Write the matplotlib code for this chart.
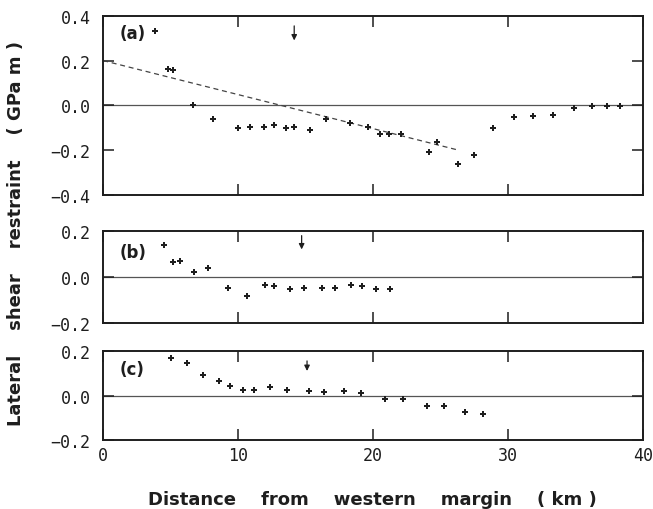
import numpy as np
import matplotlib
matplotlib.use("Agg")
import matplotlib.pyplot as plt

# panel (a)
xa = [3.85, 4.83, 5.16, 6.69, 8.1, 9.97, 10.9, 11.9, 12.67, 13.56, 14.15, 15.33,
      16.5, 18.3, 19.58, 20.5, 21.2, 22.04, 24.15, 24.74, 26.27, 27.48, 28.9,
      30.4, 31.85, 33.3, 34.9, 36.2, 37.3, 38.25]
ya = [0.33, 0.163, 0.157, 0.0, -0.059, -0.10, -0.096, -0.099, -0.09, -0.10, -0.098,
      -0.108, -0.062, -0.08, -0.099, -0.13, -0.13, -0.13, -0.21, -0.165, -0.26,
      -0.224, -0.10, -0.054, -0.048, -0.045, -0.012, -0.004, -0.004, -0.004]
fit_x = [0.0, 26.3]
fit_y = [0.2, -0.2]

# panel (b)
xb = [4.47, 5.16, 5.7, 6.76, 7.73, 9.28, 10.67, 11.95, 12.67, 13.85, 14.84,
      16.24, 17.16, 18.35, 19.2, 20.2, 21.26]
yb = [0.14, 0.065, 0.071, 0.023, 0.038, -0.046, -0.082, -0.035, -0.04, -0.052,
      -0.046, -0.05, -0.047, -0.035, -0.038, -0.054, -0.051]

# panel (c)
xc = [5.04, 6.24, 7.43, 8.59, 9.41, 10.32, 11.19, 12.37, 13.6, 15.21, 16.32,
      17.85, 19.11, 20.91, 22.22, 23.95, 25.26, 26.79, 28.12]
yc = [0.17, 0.147, 0.09, 0.063, 0.041, 0.027, 0.024, 0.036, 0.026, 0.019, 0.014,
      0.021, 0.01, -0.016, -0.014, -0.047, -0.048, -0.076, -0.082]

# arrow markers (x, top, bottom)
arrows = [(14.15, 0.355, 0.29), (14.7, 0.18, 0.12), (15.1, 0.155, 0.11)]
labels = ["(a)", "(b)", "(c)"]
ylims = [(-0.4, 0.4), (-0.2, 0.2), (-0.2, 0.2)]
yticks = [[-0.4, -0.2, 0.0, 0.2, 0.4], [-0.2, 0.0, 0.2], [-0.2, 0.0, 0.2]]
xticks = [0, 10, 20, 30, 40]

ink = "#1e1e1e"
mono = "DejaVu Sans Mono"

fig = plt.figure(figsize=(6.53, 5.10), dpi=100)
left, width = 0.158, 0.827
boxes = [(0.616, 0.351), (0.365, 0.180), (0.135, 0.175)]
series = [(xa, ya), (xb, yb), (xc, yc)]

for i, ((b, h), (xs, ys)) in enumerate(zip(boxes, series)):
    ax = fig.add_axes([left, b, width, h])
    ax.set_xlim(0, 40)
    ax.set_ylim(*ylims[i])
    ax.axhline(0, color="#555555", lw=0.9, zorder=1)
    ax.plot(xs, ys, ls="none", marker="P", ms=4.6, color=ink, mew=0, zorder=3)
    if i == 0:
        ax.plot(fit_x, fit_y, ls=(0, (4, 3)), color="#444444", lw=0.9)
    xa_, y0, y1 = arrows[i]
    ax.annotate("", xy=(xa_, y1), xytext=(xa_, y0),
                arrowprops=dict(arrowstyle="-|>", color=ink, lw=0.9,
                                mutation_scale=8, shrinkA=0, shrinkB=0))
    ax.text(0.03, [0.905, 0.77, 0.8][i], labels[i], transform=ax.transAxes,
            fontsize=12, fontweight="bold", va="center", ha="left", color=ink)

    for s in ax.spines.values():
        s.set_linewidth(1.4)
        s.set_color(ink)
    ax.set_xticks(xticks)
    ax.set_yticks(yticks[i])
    ax.tick_params(direction="in", length=8, width=1.1, color=ink,
                   top=True, right=True, labelsize=12, labelcolor=ink)
    ax.tick_params(axis="y", pad=9)
    ax.set_yticklabels([f"{v:.1f}".replace("-", "\u2212") for v in yticks[i]],
                       family=mono)
    if i == 2:
        ax.set_xticklabels([str(v) for v in xticks], family=mono)
        ax.tick_params(axis="x", pad=4)
    else:
        ax.tick_params(axis="x", labelbottom=False)

fig.text(0.570, 0.0098, "Distance    from    western    margin    ( km )",
         ha="center", va="baseline", fontsize=13, fontweight="bold", color=ink)
fig.text(0.025, 0.542, "Lateral    shear    restraint    ( GPa m )",
         ha="center", va="center", rotation=90, fontsize=13, fontweight="bold",
         color=ink)

fig.savefig("out.png", dpi=100)
